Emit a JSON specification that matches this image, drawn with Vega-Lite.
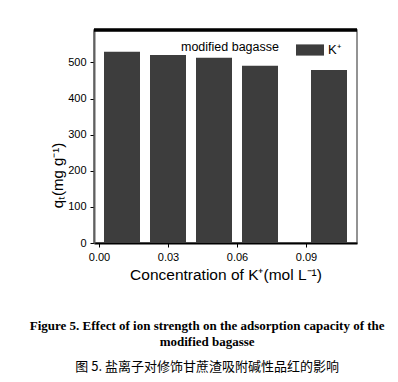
{
  "$schema": "https://vega.github.io/schema/vega-lite/v6.json",
  "autosize": {"type": "none"},
  "width": 263,
  "height": 213,
  "padding": {"left": 94, "top": 30, "right": 41, "bottom": 139},
  "background": "white",
  "config": {
    "view": {"stroke": "#707070", "strokeWidth": 1.5},
    "font": "Liberation Sans"
  },
  "title": {
    "text": ["Figure 5. Effect of ion strength on the adsorption capacity of the", "modified bagasse"],
    "subtitle": "图 5.  盐离子对修饰甘蔗渣吸附碱性品红的影响",
    "orient": "bottom",
    "anchor": "middle",
    "frame": "bounds",
    "offset": 37,
    "dx": 3,
    "font": "Liberation Serif",
    "fontWeight": "bold",
    "fontSize": 13,
    "lineHeight": 16,
    "color": "black",
    "subtitleFont": "Noto Sans CJK SC",
    "subtitleFontSize": 13,
    "subtitleColor": "black",
    "subtitlePadding": 12
  },
  "data": {
    "values": [
      {"conc": 0.01, "qt": 530, "ion": "K⁺"},
      {"conc": 0.03, "qt": 521, "ion": "K⁺"},
      {"conc": 0.05, "qt": 513, "ion": "K⁺"},
      {"conc": 0.07, "qt": 491, "ion": "K⁺"},
      {"conc": 0.10, "qt": 479, "ion": "K⁺"}
    ]
  },
  "layer": [
    {
      "mark": {"type": "bar", "size": 36},
      "encoding": {
        "x": {
          "field": "conc",
          "type": "quantitative",
          "scale": {"domain": [0, 0.11], "nice": false, "zero": true},
          "axis": {
            "values": [0, 0.03, 0.06, 0.09],
            "format": ".2f",
            "labelFlush": false,
            "title": "Concentration of K⁺(mol L⁻¹)",
            "titleFontSize": 15.5,
            "titleFontWeight": "normal",
            "titleColor": "black",
            "titleY": 31,
            "titleBaseline": "middle",
            "labelFontSize": 11,
            "labelColor": "black",
            "labelPadding": 4,
            "tickSize": 4,
            "tickColor": "black",
            "domainColor": "black",
            "domainWidth": 2,
            "grid": false
          }
        },
        "y": {
          "field": "qt",
          "type": "quantitative",
          "scale": {"domain": [0, 590], "nice": false},
          "axis": {
            "values": [0, 100, 200, 300, 400, 500],
            "labelFlush": false,
            "title": "qₜ(mg g⁻¹)",
            "titleFontSize": 15,
            "titleFontWeight": "normal",
            "titleColor": "black",
            "titleAngle": -90,
            "titleX": -37,
            "titleY": 145,
            "titleAlign": "center",
            "titleBaseline": "middle",
            "labelFontSize": 11,
            "labelColor": "black",
            "labelPadding": 4,
            "tickSize": 4,
            "tickColor": "black",
            "domainColor": "#606060",
            "domainWidth": 2,
            "grid": false
          }
        },
        "color": {
          "field": "ion",
          "type": "nominal",
          "scale": {"range": ["#3d3d3d"]},
          "legend": {
            "orient": "none",
            "legendX": 87,
            "legendY": 6,
            "direction": "horizontal",
            "title": "modified bagasse",
            "titleOrient": "left",
            "titleFontSize": 12.5,
            "titleFontWeight": "normal",
            "titleColor": "black",
            "titlePadding": 17,
            "titleBaseline": "middle",
            "labelFontSize": 13,
            "labelColor": "black",
            "labelOffset": 4,
            "symbolType": "M-1,-0.4H1V0.4H-1Z",
            "symbolSize": 784,
            "symbolStrokeWidth": 0,
            "symbolOpacity": 1
          }
        }
      }
    },
    {
      "mark": {"type": "rule", "color": "black", "strokeWidth": 2.5},
      "encoding": {"y": {"datum": 590}}
    }
  ]
}
